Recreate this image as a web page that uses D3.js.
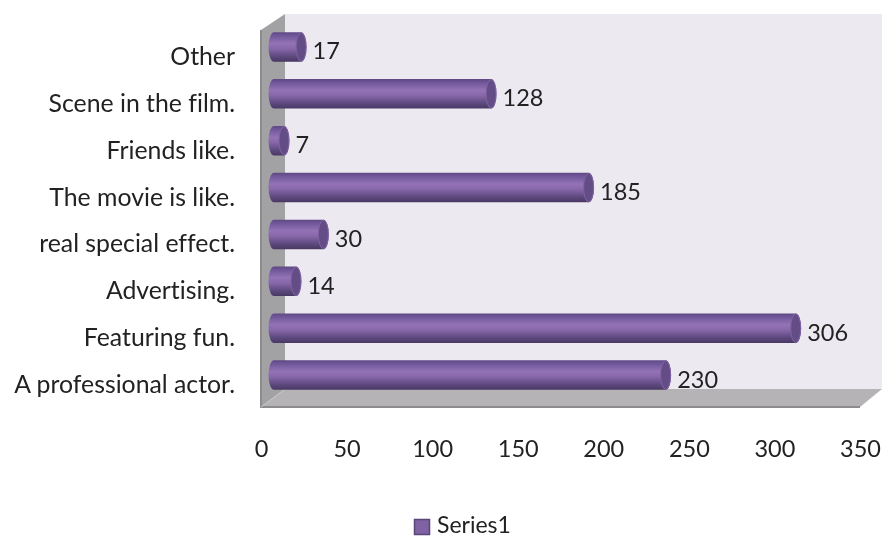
<!DOCTYPE html>
<html><head><meta charset="utf-8">
<script src="https://cdn.jsdelivr.net/npm/d3@7/dist/d3.min.js"></script>
<style>html,body{margin:0;background:#fff}svg{display:block;filter:blur(.35px)}text{font-family:Lato,"Open Sans",sans-serif;fill:#222;font-variant-ligatures:none}</style>
</head><body><div id="c"></div>
<script>
const categories=["Other","Scene in the film.","Friends like.","The movie is like.","real special effect.","Advertising.","Featuring fun.","A professional actor."];
const values=[17,128,7,185,30,14,306,230];
const tickValues=[0,50,100,150,200,250,300,350];
const seriesName="Series1";

const W=885,H=538;
const svg=d3.select("#c").append("svg").attr("width",W).attr("height",H);
const x=d3.scaleLinear().domain([0,350]).range([261,860]);
const y=d3.scaleBand().domain(categories).range([23.5,398.5]).paddingInner(.37).paddingOuter(.185);
const dx=24,dy=18,wallTop=14,floorY=407;
const defs=svg.append("defs");
const g=defs.append("linearGradient").attr("id","bar").attr("x1",0).attr("y1",0).attr("x2",0).attr("y2",1);
[[0,"#5f4885"],[.12,"#70579a"],[.38,"#9373b6"],[.55,"#8868aa"],[.8,"#604b82"],[1,"#483862"]].forEach(s=>g.append("stop").attr("offset",s[0]).attr("stop-color",s[1]));

// walls
const poly=(pts,fill)=>svg.append("polygon").attr("points",pts.map(p=>p.join(",")).join(" ")).attr("fill",fill);
poly([[x(0)+dx,floorY-dy],[x(0)+dx,wallTop],[x(350)+dx-2,wallTop],[x(350)+dx-2,floorY-dy]],"#ece9f1");
poly([[x(0),30],[x(0)+dx,wallTop],[x(0)+dx,floorY-dy],[x(0),floorY]],"#a2a2a4");
poly([[x(0),floorY],[x(0)+dx,floorY-dy],[x(350)+dx-2,floorY-dy],[x(350),floorY]],"#b5b3b6");
svg.append("path").attr("d",`M${x(0)} 30V${floorY}H${x(350)}`).attr("fill","none").attr("stroke","#8c8c8c").attr("stroke-width",2);
svg.append("line").attr("x1",x(0)).attr("y1",floorY).attr("x2",x(0)+dx).attr("y2",floorY-dy).attr("stroke","#c4c4c6").attr("stroke-width",1);

// bars
const off=11, rx=5.5, startOff=13;
const bars=svg.append("g").selectAll("g").data(categories.map((c,i)=>({c,v:values[i]}))).join("g");
bars.append("path")
 .attr("d",d=>{const x0=x(0)+startOff,x1=x(d.v)+off,t=y(d.c),h=y.bandwidth(),b=t+h;
   return `M${x0} ${t}H${x1}A${rx} ${h/2} 0 0 1 ${x1} ${b}H${x0}A${rx} ${h/2} 0 0 1 ${x0} ${t}Z`;})
 .attr("fill","url(#bar)");
bars.append("ellipse").attr("cx",d=>x(d.v)+off).attr("cy",d=>y(d.c)+y.bandwidth()/2)
 .attr("rx",rx-.5).attr("ry",y.bandwidth()/2-.5).attr("fill","#644d86").attr("stroke","#7f63a2").attr("stroke-width",1);
bars.append("text").attr("x",d=>x(d.v)+off+rx+6).attr("y",d=>y(d.c)+y.bandwidth()/2+12.5)
 .attr("font-size",23.5).text(d=>d.v);

// category labels
svg.append("g").selectAll("text").data(categories).join("text")
 .attr("x",235).attr("y",d=>y(d)+y.bandwidth()/2+18)
 .attr("text-anchor","end").attr("font-size",24.8).text(d=>d);

// value axis
const ax=svg.append("g").attr("transform","translate(0,457)")
 .call(d3.axisBottom(x).tickValues(tickValues).tickSize(0).tickPadding(0));
ax.select(".domain").remove();
ax.selectAll("text").attr("font-size",23.5).attr("dy",0).attr("y",0);

// legend
svg.append("rect").attr("x",414.5).attr("y",519.5).attr("width",15).attr("height",15)
 .attr("fill","#7f62a3").attr("stroke","#5a4678").attr("stroke-width",1.5);
svg.append("text").attr("x",437).attr("y",533).attr("font-size",23).text(seriesName);
</script></body></html>
